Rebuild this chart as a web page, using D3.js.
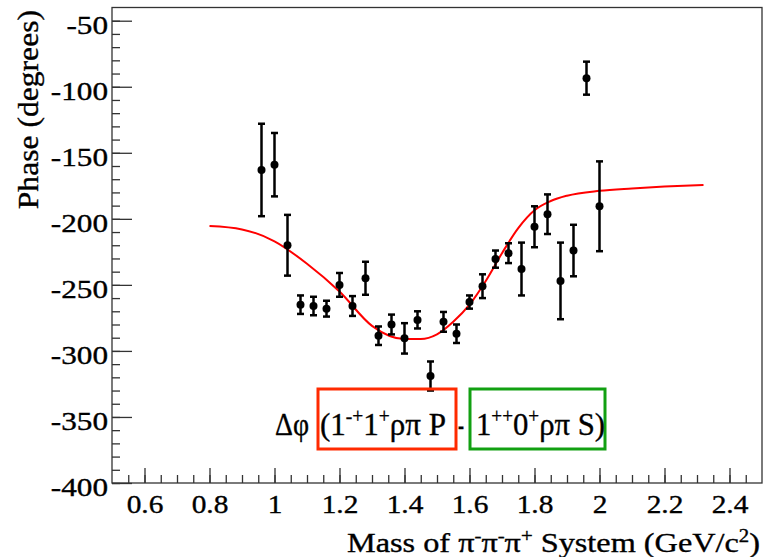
<!DOCTYPE html>
<html>
<head>
<meta charset="utf-8">
<script src="https://cdn.jsdelivr.net/npm/d3@7"></script>
<style>
  body { margin: 0; background: #fff; }
  svg text { stroke: #000; stroke-width: 0.35px; }
</style>
</head>
<body>
<div id="chart"></div>
<script>
// measured points: mass (GeV/c^2), phase (deg), error (deg)
let mass = [0.96, 1.00, 1.04, 1.08, 1.12, 1.16, 1.20, 1.24, 1.28, 1.32, 1.36, 1.40, 1.44, 1.48,
            1.52, 1.56, 1.60, 1.64, 1.68, 1.72, 1.76, 1.80, 1.84, 1.88, 1.92, 1.96, 2.00]
let phase = [-163, -159, -220, -265, -266, -268, -250, -266, -245, -288.5, -280, -290.5, -276.5, -319,
             -278, -287, -263, -251, -230.5, -226, -238, -206, -196.5, -247, -224, -93.5, -190.5]
let phaseErr = [35, 24, 23, 7, 7, 6, 9, 7.5, 12.5, 7, 7.5, 11.5, 6.5, 11,
                7.5, 7, 5, 9, 6.5, 7.5, 20, 15.5, 15, 29, 19.5, 12.5, 34]

// fit curve
let fitMass = [0.80, 0.90, 1.00, 1.10, 1.20, 1.30, 1.40, 1.45, 1.50, 1.55, 1.60, 1.65, 1.70,
               1.75, 1.80, 1.85, 1.90, 2.00, 2.10, 2.20, 2.32]
let fitPhase = [-205.5, -208, -217, -234, -255, -281, -291, -291, -287.5, -278, -265, -247, -226,
                -207, -193.5, -186.5, -182.5, -178.8, -177, -175.6, -174.3]

let massTicks = [0.6, 0.8, 1, 1.2, 1.4, 1.6, 1.8, 2, 2.2, 2.4]
let phaseTicks = [-400, -350, -300, -250, -200, -150, -100, -50]

let width = 769, height = 557
let serif = '"Liberation Serif", "Times New Roman", serif'

let svg = d3.select('#chart').append('svg')
    .attr('width', width)
    .attr('height', height)
    .style('font-family', serif)

let xScale = d3.scaleLinear().domain([0.5, 2.5]).range([112, 762])
let yScale = d3.scaleLinear().domain([-400, -40]).range([483, 7.5])

// widen glyphs a bit, the original fonts run wider than Liberation Serif
function stretch(sel, k){
    sel.each(function(){
        let w = this.getComputedTextLength()
        d3.select(this).attr('textLength', w * k).attr('lengthAdjust', 'spacingAndGlyphs')
    })
}

// frame
svg.append('rect')
    .attr('x', xScale(0.5))
    .attr('y', yScale(-40))
    .attr('width', xScale(2.5) - xScale(0.5))
    .attr('height', yScale(-400) - yScale(-40))
    .attr('fill', 'none')
    .attr('stroke', '#333')
    .attr('stroke-width', 1.3)

// x axis, minor then major ticks
svg.append('g')
    .attr('class', 'axis')
    .attr('transform', 'translate(0,' + yScale(-400) + ')')
    .call(d3.axisBottom(xScale).tickValues(d3.range(0.55, 2.5, 0.05)).tickSizeInner(-8).tickSizeOuter(0).tickFormat(''))

let xAxis = svg.append('g')
    .attr('class', 'axis')
    .attr('transform', 'translate(0,' + yScale(-400) + ')')
    .call(d3.axisBottom(xScale).tickValues(massTicks).tickSizeInner(-15).tickSizeOuter(0).tickFormat(function(d){ return String(d) }))

xAxis.selectAll('text')
    .attr('y', 30)
    .attr('dy', 0)

// y axis
svg.append('g')
    .attr('class', 'axis')
    .attr('transform', 'translate(' + xScale(0.5) + ',0)')
    .call(d3.axisLeft(yScale).tickValues(d3.range(-400, -40, 10)).tickSizeInner(-8).tickSizeOuter(0).tickFormat(''))

let yAxis = svg.append('g')
    .attr('class', 'axis')
    .attr('transform', 'translate(' + xScale(0.5) + ',0)')
    .call(d3.axisLeft(yScale).tickValues(phaseTicks).tickSizeInner(-20).tickSizeOuter(0).tickFormat(function(d){ return String(d) }))

yAxis.selectAll('text')
    .attr('x', -4)
    .attr('dy', 12.5)

svg.selectAll('.axis')
    .attr('font-family', serif)
    .attr('font-size', 26)
svg.selectAll('.axis').select('.domain').remove()
svg.selectAll('.axis').selectAll('line').attr('stroke', '#333').attr('stroke-width', 1.3)

stretch(xAxis.selectAll('text'), 1.13)
stretch(yAxis.selectAll('text'), 1.2)

// axis titles
let yTitle = svg.append('text')
    .attr('transform', 'translate(38,10) rotate(-90)')
    .attr('text-anchor', 'end')
    .attr('font-size', 29)
    .text('Phase (degrees)')
stretch(yTitle, 1.09)

let xTitle = svg.append('text')
    .attr('x', 760)
    .attr('y', 552)
    .attr('text-anchor', 'end')
    .attr('font-size', 28)
xTitle.append('tspan').text('Mass of π')
xTitle.append('tspan').attr('dy', -10).attr('font-size', 18).text('-')
xTitle.append('tspan').attr('dy', 10).text('π')
xTitle.append('tspan').attr('dy', -10).attr('font-size', 18).text('-')
xTitle.append('tspan').attr('dy', 10).text('π')
xTitle.append('tspan').attr('dy', -10).attr('font-size', 18).text('+')
xTitle.append('tspan').attr('dy', 10).text(' System (GeV/c')
xTitle.append('tspan').attr('dy', -10).attr('font-size', 18).text('2')
xTitle.append('tspan').attr('dy', 10).text(')')
xTitle.attr('textLength', 413).attr('lengthAdjust', 'spacingAndGlyphs')

// fit curve
svg.append('path')
    .datum(fitMass.map(function(m, i){ return {m: m, p: fitPhase[i]} }))
    .attr('fill', 'none')
    .attr('stroke', '#ff0000')
    .attr('stroke-width', 2)
    .attr('d', d3.line()
        .curve(d3.curveMonotoneX)
        .x(function(d){ return xScale(d.m) })
        .y(function(d){ return yScale(d.p) }))

// points with error bars
let points = mass.map(function(m, i){ return {m: m, p: phase[i], e: phaseErr[i]} })

let pts = svg.append('g').selectAll('g')
    .data(points)
    .enter().append('g')

pts.append('line')
    .attr('x1', function(d){ return xScale(d.m) })
    .attr('x2', function(d){ return xScale(d.m) })
    .attr('y1', function(d){ return yScale(d.p + d.e) })
    .attr('y2', function(d){ return yScale(d.p - d.e) })
    .attr('stroke', '#000')
    .attr('stroke-width', 2.5)

pts.selectAll('.cap')
    .data(function(d){ return [d.p + d.e, d.p - d.e].map(function(v){ return {m: d.m, v: v} }) })
    .enter().append('line')
    .attr('class', 'cap')
    .attr('x1', function(d){ return xScale(d.m) - 3.5 })
    .attr('x2', function(d){ return xScale(d.m) + 3.5 })
    .attr('y1', function(d){ return yScale(d.v) })
    .attr('y2', function(d){ return yScale(d.v) })
    .attr('stroke', '#000')
    .attr('stroke-width', 2.5)

pts.append('circle')
    .attr('cx', function(d){ return xScale(d.m) })
    .attr('cy', function(d){ return yScale(d.p) })
    .attr('r', 4)
    .attr('fill', '#000')

// label with the two coloured boxes
svg.append('rect')
    .attr('x', 318).attr('y', 389)
    .attr('width', 138).attr('height', 60)
    .attr('fill', 'none')
    .attr('stroke', '#ff2a00')
    .attr('stroke-width', 3)

svg.append('rect')
    .attr('x', 470).attr('y', 389)
    .attr('width', 135).attr('height', 60)
    .attr('fill', 'none')
    .attr('stroke', '#12a012')
    .attr('stroke-width', 3)

function labelPart(x, len, parts){
    let t = svg.append('text')
        .attr('x', x)
        .attr('y', 435)
        .attr('font-size', 32)
    parts.forEach(function(p){
        if(p[1]) t.append('tspan').attr('dy', -12).attr('font-size', 20).text(p[0])
        else t.append('tspan').attr('dy', p[2] ? 12 : 0).text(p[0])
    })
    t.attr('textLength', len).attr('lengthAdjust', 'spacingAndGlyphs')
}

labelPart(275, 34, [['Δφ']])
labelPart(320, 126, [['(1'], ['-+', true], ['1', false, true], ['+', true], ['ρπ P', false, true]])
labelPart(458, 6, [['-']])
labelPart(476, 129, [['1'], ['++', true], ['0', false, true], ['+', true], ['ρπ S)', false, true]])
</script>
</body>
</html>
